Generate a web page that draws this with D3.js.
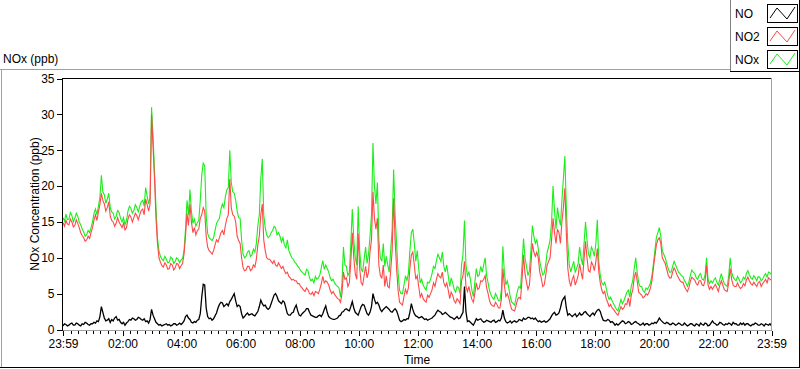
<!DOCTYPE html>
<html><head><meta charset="utf-8">
<script src="https://cdn.jsdelivr.net/npm/d3@7"></script>
<style>
html,body{margin:0;padding:0;background:#fff;}
svg{display:block;font-family:"Liberation Sans",Arial,sans-serif;font-size:12px;}
</style></head><body>
<svg id="chart" width="800" height="369"></svg>
<script>
// ---- data ----
const sampleStepMinutes = 3;
const seriesNames = ["NO", "NO2", "NOx"];
const xTickLabels = ["23:59","02:00","04:00","06:00","08:00","10:00","12:00","14:00","16:00","18:00","20:00","22:00","23:59"];
const yTickValues = [0, 5, 10, 15, 20, 25, 30, 35];

const noxValues = [
15.6,15.1,16.1,15.3,15.4,16.3,15.9,15.0,15.5,16.2,15.8,15.0,14.6,14.0,13.6,13.0,13.2,13.8,13.5,14.2,
15.0,16.2,16.8,16.0,17.2,18.4,21.5,19.2,18.8,17.6,18.2,19.0,17.0,16.4,16.2,15.4,15.8,16.6,16.3,15.5,
15.0,15.6,14.6,15.2,16.5,17.2,16.9,16.2,16.6,17.4,17.0,16.4,17.2,17.8,18.0,17.2,19.8,18.6,17.5,18.5,
31.0,27.0,22.0,17.0,12.8,11.0,10.2,9.8,9.6,10.2,9.8,9.3,9.4,10.1,9.9,9.2,9.5,10.0,9.8,9.3,
9.7,9.9,11.0,14.0,18.0,16.0,19.5,16.5,14.8,15.4,14.4,14.9,15.2,18.0,21.5,23.2,22.8,16.0,13.4,12.8,
12.6,12.4,12.8,13.8,14.8,15.2,15.5,16.8,17.5,17.0,18.5,19.5,19.8,25.0,20.5,19.2,19.0,18.0,16.5,15.6,
15.5,12.5,10.5,10.0,10.2,10.8,11.0,10.2,10.4,11.2,10.8,12.0,14.5,16.0,21.0,23.8,16.0,14.2,13.2,12.8,
13.0,13.5,13.8,14.4,14.2,13.2,13.5,13.0,12.2,12.8,11.8,11.4,12.5,11.0,10.5,10.0,9.8,9.4,9.2,8.8,
8.6,8.2,8.0,7.8,7.6,8.4,8.2,7.2,6.8,7.0,6.5,7.4,7.0,7.2,7.6,8.6,9.6,8.4,9.0,8.5,
8.0,7.2,6.8,7.0,6.5,6.2,6.0,5.8,4.5,6.5,11.5,9.0,8.8,7.5,8.0,12.0,16.8,12.5,10.0,9.0,
17.2,11.0,8.5,8.0,9.8,11.5,9.2,10.5,13.0,16.0,26.0,20.0,17.5,20.5,12.5,10.0,9.5,12.0,8.8,10.2,
9.0,8.0,11.0,14.0,22.3,16.0,12.0,8.0,5.5,5.0,5.0,6.2,7.5,6.8,7.8,11.0,13.5,14.0,12.0,9.5,
11.0,8.5,6.5,7.0,6.2,5.8,5.5,6.6,6.5,7.0,7.8,8.8,8.5,9.6,10.5,10.0,9.5,10.8,8.8,8.0,
9.0,7.5,6.0,7.2,6.5,5.6,5.2,6.0,5.8,5.0,9.0,10.5,15.2,9.0,7.5,8.0,7.0,5.5,4.6,6.5,
8.5,7.4,7.6,8.8,8.0,9.0,10.0,7.5,6.5,5.4,4.8,4.4,4.2,5.0,4.6,4.0,4.0,5.5,11.6,8.0,
6.2,6.8,5.8,4.6,3.8,3.6,3.4,4.5,5.5,6.0,5.8,9.0,12.7,10.0,8.8,7.5,8.2,11.0,14.5,13.0,
12.0,12.5,11.2,9.5,8.5,7.6,7.8,9.0,10.8,11.5,12.5,15.0,20.0,16.5,14.0,17.0,15.5,14.5,18.0,21.0,
24.2,17.0,12.0,9.0,8.0,8.8,9.5,8.0,8.5,9.2,11.5,10.0,9.0,12.0,15.0,12.5,10.5,10.0,11.5,11.0,
10.2,12.0,15.3,9.5,7.5,6.5,6.2,6.6,5.8,4.8,4.2,4.5,4.0,3.6,3.2,2.8,2.6,3.4,4.2,3.6,
4.0,4.6,5.2,5.5,4.5,6.0,6.8,8.5,10.0,8.0,6.5,6.0,6.0,5.4,5.2,5.8,5.6,6.0,6.5,7.5,
9.2,11.0,12.8,13.5,14.2,13.0,11.0,10.5,10.0,9.2,8.5,8.0,8.0,8.8,9.5,9.0,8.5,8.0,7.8,7.5,
7.4,6.8,6.5,6.0,6.6,7.5,8.3,8.0,7.8,7.2,7.0,7.6,7.8,7.0,6.9,7.6,10.0,7.0,6.4,6.8,
6.5,6.9,7.2,6.6,6.2,7.0,7.8,7.0,6.4,6.2,6.0,7.5,10.0,8.0,7.3,7.0,6.8,7.4,7.0,6.5,
6.8,7.3,7.0,7.8,8.2,7.6,7.2,7.0,7.5,7.2,6.8,7.4,7.3,6.8,7.0,7.5,7.8,7.3,8.0,7.9,7.6];

const no2Values = [
14.9,14.4,15.2,14.7,14.6,15.4,15.0,14.3,14.5,15.3,14.8,14.2,13.5,13.1,12.8,12.3,12.5,13.0,12.7,13.5,
14.2,15.3,16.0,15.2,16.4,17.4,19.0,18.0,17.5,16.5,17.0,17.8,15.8,15.2,15.0,14.4,14.8,15.6,15.0,14.6,
14.2,14.8,13.9,14.2,15.4,16.0,15.7,15.0,15.6,16.2,15.9,15.3,16.0,16.6,16.8,16.0,18.2,17.4,16.5,17.5,
30.0,25.5,21.0,15.5,12.0,10.0,9.4,8.9,8.7,9.3,9.0,8.4,8.5,9.2,9.0,8.3,8.6,9.2,9.1,8.5,
8.9,9.2,10.5,13.0,16.2,14.5,17.5,15.0,13.5,14.2,13.2,13.8,14.0,15.5,16.0,17.0,16.5,13.0,11.5,11.0,
10.8,10.5,11.0,11.8,12.5,12.2,12.8,13.5,13.8,13.2,14.5,15.5,16.0,21.0,17.0,16.0,15.8,15.0,13.0,12.4,
12.0,10.0,8.6,8.2,8.3,8.8,8.8,8.2,8.4,9.0,8.7,9.8,11.8,13.0,16.0,17.5,12.5,11.0,10.0,9.8,
9.8,9.5,9.2,9.6,9.0,8.8,9.3,8.9,8.5,8.8,8.2,7.8,8.0,7.4,7.2,6.9,7.0,6.8,6.8,6.4,
6.4,6.0,5.8,5.5,5.3,5.8,5.5,5.0,4.9,5.2,4.7,5.3,5.2,5.0,5.6,6.4,7.4,6.5,6.8,6.6,
6.2,5.5,5.0,5.3,4.9,4.6,4.3,4.2,3.8,5.0,8.0,7.0,7.2,6.0,6.5,9.5,13.5,10.0,7.8,7.0,
13.4,8.5,6.5,6.2,7.5,8.8,7.2,8.0,10.8,12.5,19.2,15.5,14.0,15.5,9.0,7.5,7.2,9.0,6.0,7.5,
6.0,5.8,8.2,11.0,18.3,12.5,8.5,5.5,3.8,3.6,3.4,4.6,5.6,5.0,5.8,8.5,10.4,10.8,9.0,7.0,
7.5,6.0,4.5,5.0,4.3,4.0,3.8,4.8,4.5,5.0,5.5,6.5,6.0,7.0,7.8,7.4,7.2,8.0,6.5,6.0,
6.5,5.5,4.3,5.2,4.8,4.0,3.7,4.3,4.0,3.6,6.8,7.5,9.5,6.0,5.3,6.0,5.0,4.2,3.8,5.0,
6.5,5.6,5.8,6.8,6.7,7.0,7.5,5.8,5.0,4.0,3.5,3.3,3.2,3.8,3.5,3.0,3.0,4.2,8.5,6.2,
4.6,5.0,4.4,3.5,2.8,2.7,2.6,3.4,4.2,4.5,4.3,7.0,10.4,7.8,6.6,5.6,6.2,9.0,12.0,10.8,
10.2,10.8,10.0,8.0,7.2,6.0,6.2,7.5,9.0,9.5,10.0,12.5,15.5,13.5,12.0,14.0,13.5,12.0,15.0,17.0,
19.7,13.5,8.5,6.8,6.0,7.0,7.5,6.2,6.8,7.5,9.2,8.0,7.0,9.8,12.3,10.0,8.2,8.0,9.4,9.0,
8.2,9.5,11.3,8.0,6.5,5.5,5.0,5.3,4.3,3.8,3.2,3.5,3.0,2.8,2.5,2.2,2.0,2.6,3.2,2.8,
3.0,3.6,3.5,4.4,3.2,4.8,5.5,7.2,8.0,6.8,5.2,5.0,4.8,4.4,4.6,5.0,4.8,5.2,5.8,6.8,
8.6,10.2,11.8,12.5,12.8,12.0,10.0,9.6,9.2,8.4,7.6,7.2,7.2,8.0,8.6,8.2,7.6,7.2,6.8,6.6,
6.6,6.0,5.6,5.3,5.8,6.7,7.3,7.1,6.9,6.4,6.2,6.8,6.8,6.2,6.1,6.8,9.0,6.2,5.6,6.0,
5.6,6.0,6.3,5.8,5.3,6.2,6.8,6.2,5.6,5.4,5.3,6.5,8.5,7.0,6.2,6.0,6.0,6.5,6.0,5.7,
5.9,6.4,6.1,6.9,7.3,6.8,6.4,6.2,6.6,6.3,6.0,6.5,6.7,6.0,6.4,6.7,7.0,6.5,7.2,7.0,6.9];

const noValues = [
0.5,0.8,0.7,0.5,0.6,0.8,0.9,0.6,0.6,0.9,0.8,0.6,0.5,0.8,0.7,1.0,0.9,0.7,0.6,0.8,
0.8,1.0,0.9,1.2,1.1,1.8,3.2,2.4,1.6,1.2,1.3,1.5,1.0,1.4,1.2,1.6,1.8,1.3,1.4,1.0,
0.8,1.0,0.6,0.9,1.1,1.4,1.3,1.6,1.5,1.3,1.4,1.7,1.6,1.4,1.3,1.5,1.1,1.2,0.9,1.4,
2.8,2.0,1.5,1.0,0.8,0.6,0.7,0.5,0.6,0.7,0.8,0.6,0.7,0.5,0.6,0.8,0.8,0.6,0.7,0.9,
0.7,0.9,1.2,1.8,2.0,1.6,1.4,1.0,0.9,1.1,1.0,1.3,1.4,2.2,4.5,6.3,6.2,3.0,1.8,1.5,
1.6,1.3,1.5,1.9,2.3,3.0,3.5,3.8,3.7,3.2,3.4,3.6,3.3,3.9,4.2,4.6,5.0,4.0,3.2,3.4,
3.2,2.2,1.6,1.8,2.1,2.3,2.0,2.1,2.2,2.0,1.9,2.2,2.5,3.2,4.1,3.6,3.3,3.4,3.0,2.8,
3.0,3.6,4.2,4.8,5.0,4.6,4.0,3.8,3.6,4.0,3.8,3.0,2.2,2.0,2.0,2.3,2.4,3.0,3.4,2.6,
2.0,1.9,2.2,2.4,2.6,2.9,2.9,2.4,2.0,1.9,1.8,1.7,1.7,1.9,2.0,1.8,2.2,2.8,3.3,2.4,
1.8,1.6,1.5,1.4,1.4,1.5,1.6,1.9,2.0,2.4,2.5,2.8,2.9,2.7,2.6,3.2,3.9,3.0,2.4,2.2,
2.0,2.6,3.2,3.5,3.4,2.8,2.2,2.0,2.4,3.2,5.0,4.2,3.6,3.8,3.4,2.8,2.5,2.8,3.0,3.2,
3.0,2.8,2.5,2.4,2.7,2.9,2.6,2.0,1.3,1.1,1.2,1.4,1.3,1.5,1.5,2.4,3.6,2.8,2.2,1.9,
1.8,1.6,1.7,1.8,1.6,1.4,1.5,1.3,1.4,1.5,1.6,1.8,2.0,2.4,2.7,2.5,2.4,2.1,2.2,2.4,
2.2,2.0,1.8,1.7,1.6,1.4,1.6,1.8,1.5,1.6,2.0,2.4,6.0,2.5,1.1,1.2,1.0,0.8,0.6,1.0,
1.5,1.3,1.4,1.5,1.2,1.0,1.1,1.3,1.2,1.1,1.0,1.2,1.3,1.0,1.1,1.3,1.2,1.6,2.7,1.6,
1.1,0.9,1.0,1.2,0.9,1.1,1.2,1.0,1.1,1.4,1.3,1.2,1.6,1.4,1.5,1.7,1.7,1.5,1.6,1.4,
1.6,1.3,1.1,1.2,1.0,1.1,1.2,1.0,1.1,1.3,1.5,1.9,2.2,2.4,2.0,2.1,2.3,3.0,3.9,4.3,
4.6,3.0,2.0,2.2,2.0,1.8,2.0,2.2,1.8,2.0,2.3,2.0,2.1,2.4,2.5,2.2,2.0,1.8,2.1,2.3,
2.0,2.4,2.7,2.8,2.5,1.8,1.3,1.2,1.2,1.4,1.3,1.0,1.1,0.9,0.6,0.8,0.6,0.8,1.0,1.2,
1.1,0.8,0.9,1.1,1.0,0.7,0.8,1.0,1.1,0.9,0.8,0.6,0.7,0.9,0.6,0.8,0.8,0.6,0.7,0.9,
0.8,1.0,0.9,1.2,1.6,1.3,1.1,0.9,0.8,1.0,0.9,0.7,0.7,0.9,0.8,0.6,0.7,0.9,0.8,0.6,
0.6,0.9,0.7,0.5,0.6,0.8,0.8,0.6,0.5,0.8,0.7,0.5,0.9,0.7,0.6,0.9,0.8,0.5,0.6,0.9,
1.2,0.9,0.8,0.6,0.7,1.0,0.9,0.7,0.6,0.8,0.7,0.9,0.8,0.6,1.0,0.8,0.8,0.6,0.6,0.9,
0.7,0.9,0.6,0.8,0.8,0.6,0.5,0.7,0.7,0.9,0.8,0.6,0.6,0.8,0.7,0.5,0.8,0.7,0.6,0.8,0.5];

// ---- styles ----
const colors = {NO: "#000000", NO2: "#ff4848", NOx: "#19ee19"};

const svg = d3.select("#chart");
const W = 800, H = 369;
const plot = {left: 62, top: 78, right: 772, bottom: 330};

const tStart = new Date(1999, 11, 31, 23, 59);
const tEnd = new Date(2000, 0, 1, 23, 59);
function labelToDate(lbl, k) {
  if (k === 0) return tStart;
  if (k === xTickLabels.length - 1) return tEnd;
  const [h, m] = lbl.split(":").map(Number);
  return new Date(2000, 0, 1, h, m);
}
const majorTicks = xTickLabels.map(labelToDate);
const minorTicks = [];
for (let d = new Date(2000, 0, 1, 0, 0); d < tEnd; d = new Date(+d + 15 * 60000)) minorTicks.push(d);

const x = d3.scaleTime().domain([tStart, tEnd]).range([63, 771.5]);
const y = d3.scaleLinear().domain([0, 35]).range([329.5, 78.5]);

svg.append("rect").attr("width", W).attr("height", H).attr("fill", "#fff");

// outer frame
const g0 = svg.append("g").attr("shape-rendering", "crispEdges");
g0.append("line").attr("x1", 0).attr("x2", 731).attr("y1", 69.5).attr("y2", 69.5).attr("stroke", "#a0a0a0");
g0.append("line").attr("x1", 1.5).attr("x2", 1.5).attr("y1", 69).attr("y2", 368).attr("stroke", "#a0a0a0");
g0.append("line").attr("x1", 0).attr("x2", 800).attr("y1", 367.5).attr("y2", 367.5).attr("stroke", "#000");
g0.append("line").attr("x1", 799.5).attr("x2", 799.5).attr("y1", 0).attr("y2", 368).attr("stroke", "#000");
g0.append("line").attr("x1", 730.5).attr("x2", 730.5).attr("y1", 0).attr("y2", 72).attr("stroke", "#808080");
g0.append("line").attr("x1", 730).attr("x2", 800).attr("y1", 71.5).attr("y2", 71.5).attr("stroke", "#000");

svg.append("text").attr("x", 3).attr("y", 63).attr("fill", "#000").text("NOx (ppb)");

// data lines
const seriesValues = {NO: noValues, NO2: no2Values, NOx: noxValues};
const tOf = i => new Date(+tStart + i * sampleStepMinutes * 60000);
const line = d3.line().x((d, i) => x(tOf(i))).y(d => y(d));
svg.append("clipPath").attr("id", "clip").append("rect")
  .attr("x", plot.left + 1).attr("y", plot.top + 1)
  .attr("width", plot.right - plot.left - 2).attr("height", plot.bottom - plot.top - 1);
const lg = svg.append("g").attr("clip-path", "url(#clip)");
["NOx", "NO2", "NO"].forEach(name => {
  lg.append("path").datum(seriesValues[name])
    .attr("d", line).attr("fill", "none")
    .attr("stroke", colors[name]).attr("stroke-width", name === "NO" ? 1.3 : 1.1)
    .attr("stroke-linejoin", "miter");
});

// plot frame
const gf = svg.append("g").attr("shape-rendering", "crispEdges");
gf.append("line").attr("x1", plot.left).attr("x2", plot.right).attr("y1", plot.top + 0.5).attr("y2", plot.top + 0.5).attr("stroke", "#000");
gf.append("line").attr("x1", plot.right - 0.5).attr("x2", plot.right - 0.5).attr("y1", plot.top).attr("y2", plot.bottom + 1).attr("stroke", "#a0a0a0");
gf.append("line").attr("x1", plot.left).attr("x2", plot.right).attr("y1", plot.bottom + 0.5).attr("y2", plot.bottom + 0.5).attr("stroke", "#a0a0a0");

// y axis
const yAxis = svg.append("g").attr("transform", `translate(${plot.left + 0.5},0)`)
  .call(d3.axisLeft(y).tickValues(yTickValues).tickSize(6).tickSizeOuter(0).tickPadding(2));
yAxis.select(".domain").attr("d", `M0,${plot.top}V${plot.bottom + 1}`).attr("stroke", "#000");
yAxis.selectAll("text").attr("font-family", "Liberation Sans, Arial, sans-serif").attr("font-size", 12).attr("fill", "#000");
yAxis.selectAll("line").attr("stroke", "#000");
yAxis.attr("shape-rendering", "crispEdges");

// x axis minor ticks
const xMinor = svg.append("g").attr("transform", `translate(0,${plot.bottom + 1})`)
  .call(d3.axisBottom(x).tickValues(minorTicks).tickSize(3).tickFormat(""));
xMinor.select(".domain").remove();
xMinor.selectAll("line").attr("stroke", "#000");
xMinor.attr("shape-rendering", "crispEdges");

// x axis major ticks
const xMajor = svg.append("g").attr("transform", `translate(0,${plot.bottom + 1})`)
  .call(d3.axisBottom(x).tickValues(majorTicks).tickSize(5).tickPadding(3)
    .tickFormat((d, k) => xTickLabels[k]));
xMajor.select(".domain").remove();
xMajor.selectAll("line").attr("stroke", "#000");
xMajor.selectAll("text").attr("font-family", "Liberation Sans, Arial, sans-serif").attr("font-size", 12).attr("fill", "#000");
xMajor.attr("shape-rendering", "crispEdges");

// axis titles
svg.append("text").attr("transform", `translate(39,${(plot.top + plot.bottom) / 2}) rotate(-90)`)
  .attr("text-anchor", "middle").attr("fill", "#000").text("NOx Concentration (ppb)");
svg.append("text").attr("x", (plot.left + plot.right) / 2).attr("y", 364)
  .attr("text-anchor", "middle").attr("fill", "#000").text("Time");

// legend
const legend = svg.append("g");
seriesNames.forEach((name, k) => {
  const gy = 4 + k * 23;
  legend.append("text").attr("x", 735).attr("y", gy + 14).attr("fill", "#000").text(name);
  legend.append("rect").attr("x", 767.5).attr("y", gy + 0.5).attr("width", 30).attr("height", 18)
    .attr("fill", "#fff").attr("stroke", "#000").attr("shape-rendering", "crispEdges");
  legend.append("polyline").attr("points", [[770, gy + 14], [777, gy + 4], [787, gy + 15], [795, gy + 3]].map(p => p.join(",")).join(" "))
    .attr("fill", "none").attr("stroke", colors[name]).attr("stroke-width", 1);
});
</script>
</body></html>
